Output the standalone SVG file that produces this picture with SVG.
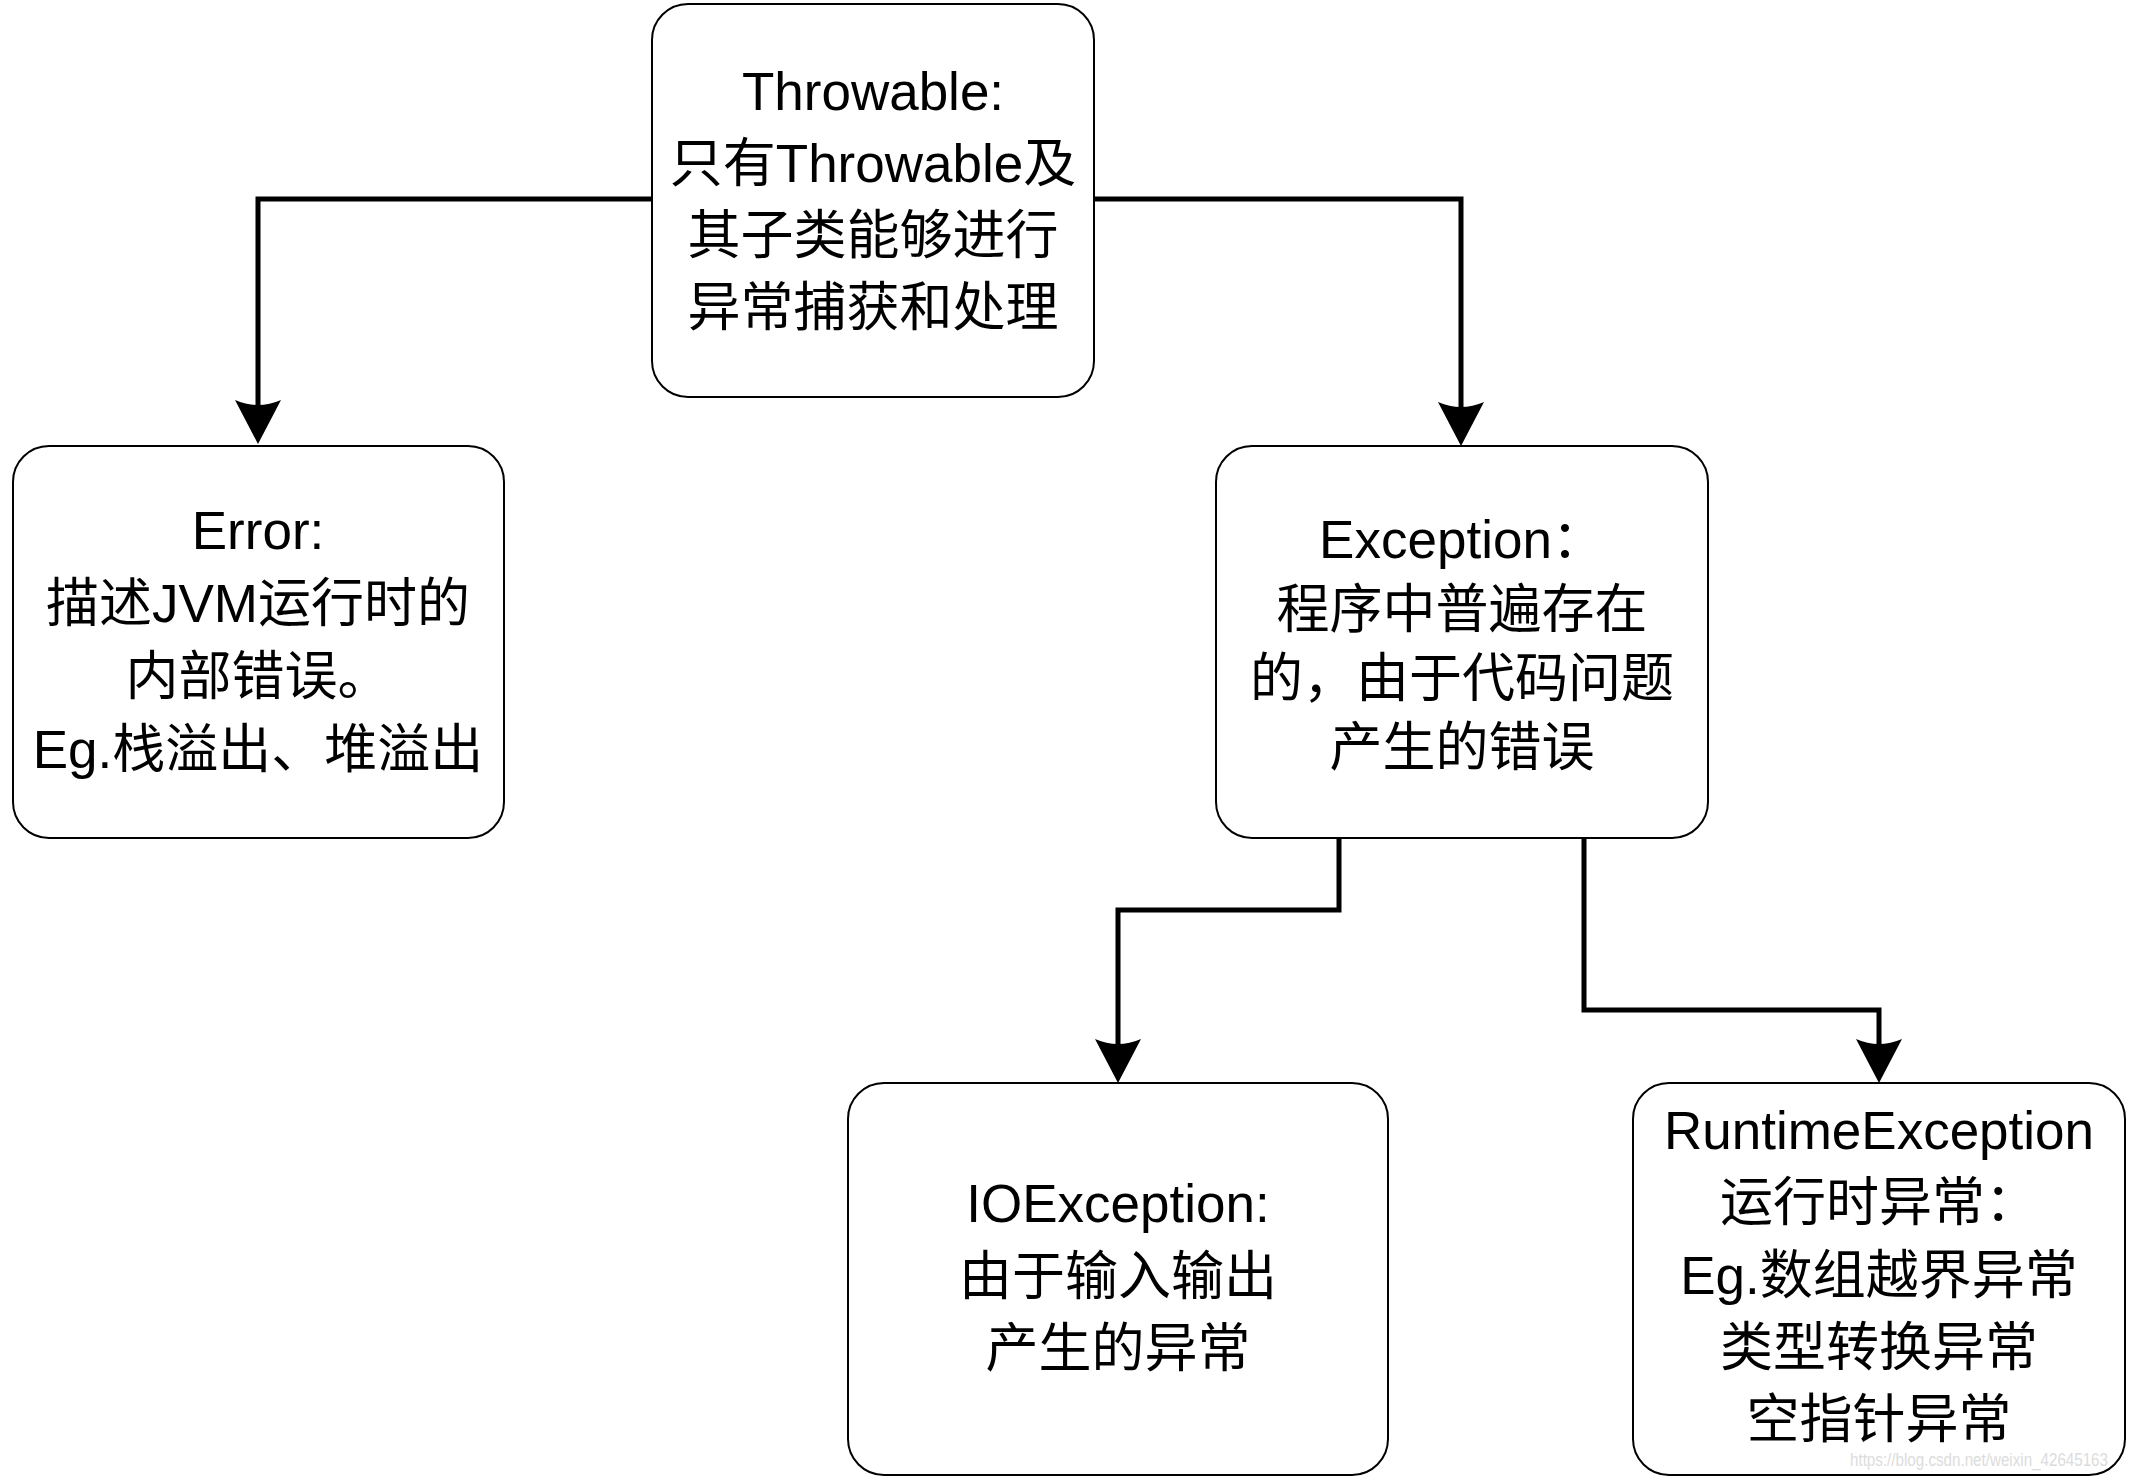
<svg xmlns="http://www.w3.org/2000/svg" width="2130" height="1479" viewBox="0 0 2130 1479">
<style>
.box{fill:#fff;stroke:#000;stroke-width:2}
.t{font-family:"Liberation Sans","Noto Sans CJK SC",sans-serif;font-size:53px;fill:#000;text-anchor:middle}
.c{fill:none;stroke:#000;stroke-width:5;stroke-linejoin:miter}
.wm{font-family:"Liberation Sans",sans-serif;font-size:18px;fill:#dcdcdc}
</style>
<defs>
<marker id="ah" viewBox="0 0 44 46" refX="14" refY="23" markerWidth="44" markerHeight="46" markerUnits="userSpaceOnUse" orient="auto">
<path d="M0,0 L44,23 L0,46 Q10,23 0,0 Z" fill="#000"/>
</marker>
</defs>
<rect width="2130" height="1479" fill="#fff"/>
<g id="connectors">
<path class="c" d="M652,199 H258 V414" marker-end="url(#ah)"/>
<path class="c" d="M1094,199 H1461 V416" marker-end="url(#ah)"/>
<path class="c" d="M1339,838 V910 H1118 V1053" marker-end="url(#ah)"/>
<path class="c" d="M1584,838 V1010 H1879 V1053" marker-end="url(#ah)"/>
</g>
<g id="throwable">
<rect class="box" x="652" y="4" width="442" height="393" rx="36"/>
<text class="t" x="873" y="110">Throwable:</text>
<text class="t" x="873" y="182">只有Throwable及</text>
<text class="t" x="873" y="254">其子类能够进行</text>
<text class="t" x="873" y="326">异常捕获和处理</text>
</g>
<g id="error">
<rect class="box" x="13" y="446" width="491" height="392" rx="36"/>
<text class="t" x="258" y="549">Error:</text>
<text class="t" x="258" y="622">描述JVM运行时的</text>
<text class="t" x="258" y="695">内部错误。</text>
<text class="t" x="258" y="768">Eg.栈溢出、堆溢出</text>
</g>
<g id="exception">
<rect class="box" x="1216" y="446" width="492" height="392" rx="36"/>
<text class="t" x="1462" y="558">Exception：</text>
<text class="t" x="1462" y="628">程序中普遍存在</text>
<text class="t" x="1462" y="697">的，由于代码问题</text>
<text class="t" x="1462" y="766">产生的错误</text>
</g>
<g id="ioexception">
<rect class="box" x="848" y="1083" width="540" height="392" rx="36"/>
<text class="t" x="1118" y="1222">IOException:</text>
<text class="t" x="1118" y="1295">由于输入输出</text>
<text class="t" x="1118" y="1367">产生的异常</text>
</g>
<g id="runtimeexception">
<rect class="box" x="1633" y="1083" width="492" height="392" rx="36"/>
<text class="t" x="1879" y="1149">RuntimeException</text>
<text class="t" x="1879" y="1221">运行时异常：</text>
<text class="t" x="1879" y="1294">Eg.数组越界异常</text>
<text class="t" x="1879" y="1366">类型转换异常</text>
<text class="t" x="1879" y="1438">空指针异常</text>
</g>
<text class="wm" x="1850" y="1466" textLength="258" lengthAdjust="spacingAndGlyphs">https://blog.csdn.net/weixin_42645163</text>
</svg>
